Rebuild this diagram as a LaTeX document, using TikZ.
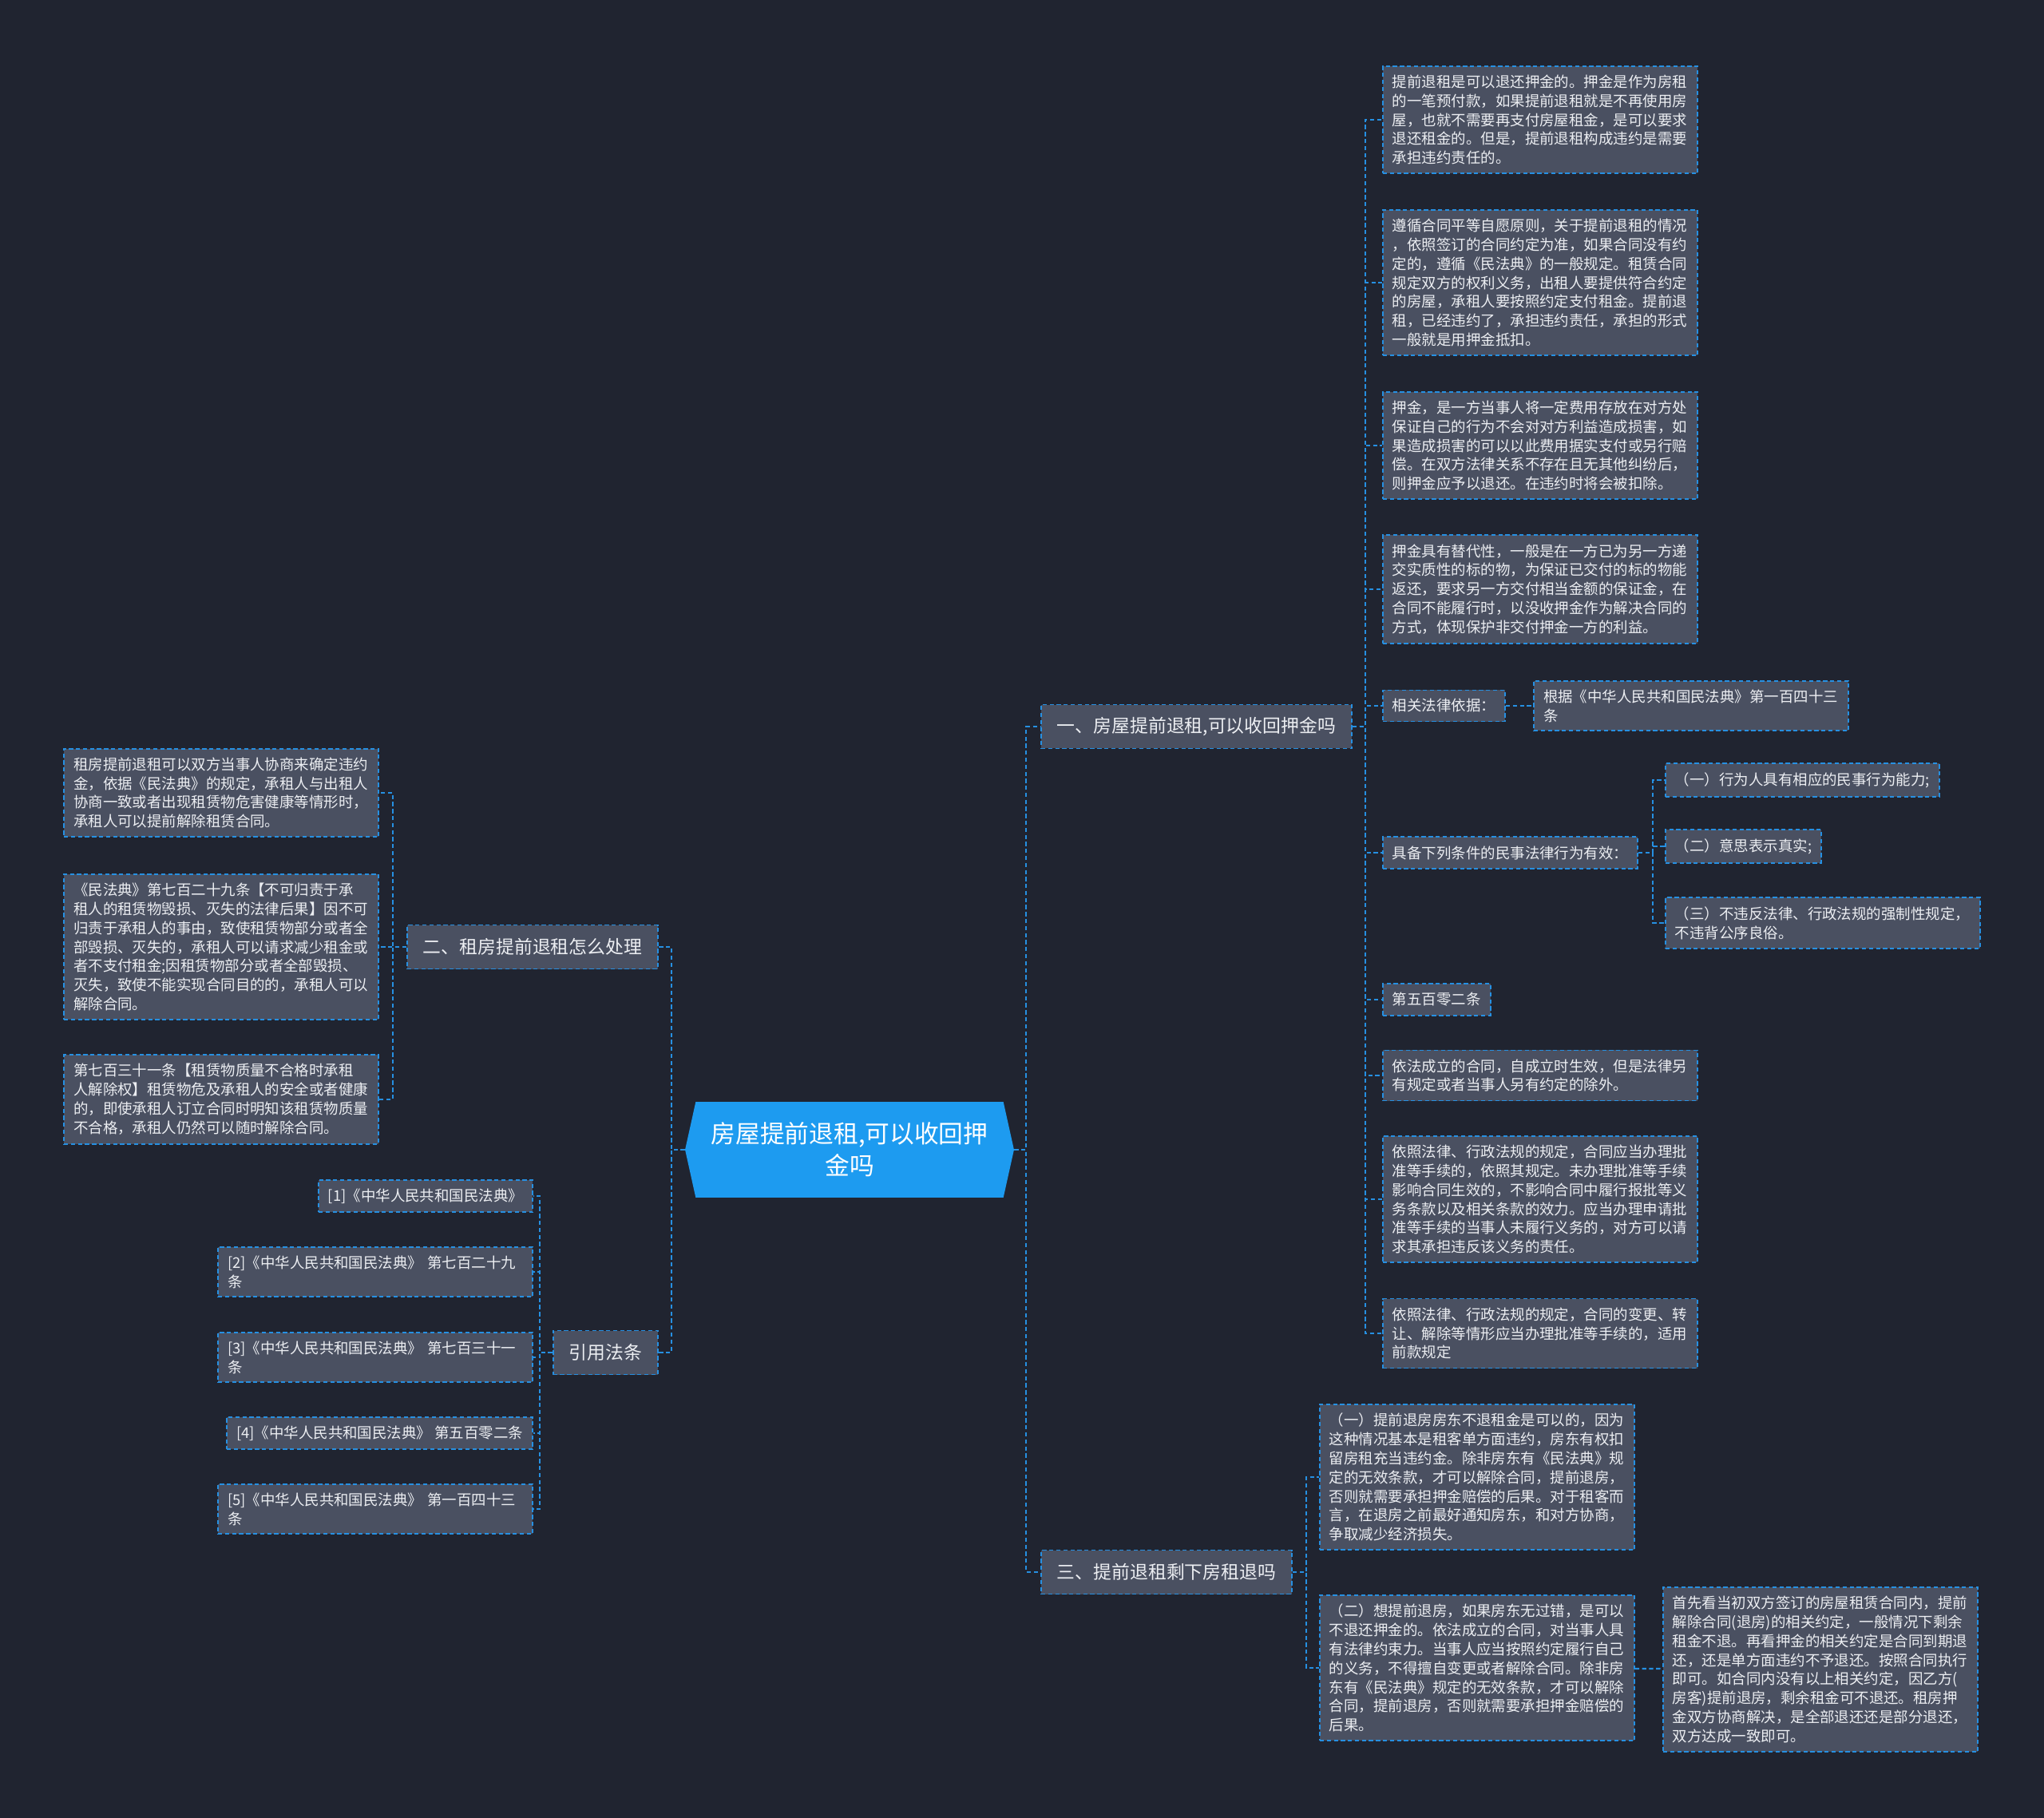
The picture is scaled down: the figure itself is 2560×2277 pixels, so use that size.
\documentclass[tikz,border=0pt]{standalone}
\usepackage{fontspec}
\setmainfont{Noto Sans CJK SC}
\usetikzlibrary{positioning, shapes.symbols}

\definecolor{bgcol}{RGB}{32,36,48}
\definecolor{boxgrey}{RGB}{74,80,97}
\definecolor{lineblue}{RGB}{38,144,226}
\definecolor{rootblue}{RGB}{29,155,240}
\definecolor{textwhite}{RGB}{236,238,242}

\newcommand{\leaffont}{\fontsize{10.5}{13.6}\selectfont}
\newcommand{\branchfont}{\fontsize{13}{17}\selectfont}
\newcommand{\rootfont}{\fontsize{17.5}{22.8}\selectfont}

\begin{document}
\begin{tikzpicture}[
    x=0.02cm, y=-0.02cm,
    rootbox/.style={signal, signal to=west and east, signal pointer angle=155, fill=rootblue, text=white, font=\rootfont, align=center, minimum width=8.24cm, minimum height=2.4cm, inner sep=0pt},
    branchbox/.style={rectangle, draw=lineblue, fill=boxgrey, line width=1.1pt, dash pattern=on 3pt off 2pt, text=textwhite, font=\branchfont, inner xsep=0.4cm, minimum height=1.1cm},
    leafbox/.style={rectangle, draw=lineblue, fill=boxgrey, line width=1.1pt, dash pattern=on 3pt off 2pt, text=textwhite, font=\leaffont, align=left, inner xsep=0.24cm, inner ysep=0.22cm},
    wide/.style={text width=7.4cm},
    conn/.style={draw=lineblue, line width=1.3pt, dash pattern=on 3pt off 2pt}
]
    \fill[bgcol] (0,0) rectangle (2560,2277);
    \useasboundingbox (0,0) rectangle (2560,2277);

    % centre and first level
    \node[rootbox] (root) at (1064,1440) {房屋提前退租,可以收回押\\金吗};
    \node[branchbox, anchor=west] (sec1) at (1303,910) {一、房屋提前退租,可以收回押金吗};
    \node[branchbox, anchor=west] (sec3) at (1303,1969) {三、提前退租剩下房租退吗};
    \node[branchbox, anchor=east] (sec2) at (825,1186) {二、租房提前退租怎么处理};
    \node[branchbox, anchor=east] (cite) at (825,1694) {引用法条};

    % section one
    \node[leafbox, wide, anchor=west] (dep1) at (1731,150) {提前退租是可以退还押金的。押金是作为房租\\的一笔预付款，如果提前退租就是不再使用房\\屋，也就不需要再支付房屋租金，是可以要求\\退还租金的。但是，提前退租构成违约是需要\\承担违约责任的。};
    \node[leafbox, wide, anchor=west] (dep2) at (1731,354) {遵循合同平等自愿原则，关于提前退租的情况\\，依照签订的合同约定为准，如果合同没有约\\定的，遵循《民法典》的一般规定。租赁合同\\规定双方的权利义务，出租人要提供符合约定\\的房屋，承租人要按照约定支付租金。提前退\\租，已经违约了，承担违约责任，承担的形式\\一般就是用押金抵扣。};
    \node[leafbox, wide, anchor=west] (dep3) at (1731,558) {押金，是一方当事人将一定费用存放在对方处\\保证自己的行为不会对对方利益造成损害，如\\果造成损害的可以以此费用据实支付或另行赔\\偿。在双方法律关系不存在且无其他纠纷后，\\则押金应予以退还。在违约时将会被扣除。};
    \node[leafbox, wide, anchor=west] (dep4) at (1731,738) {押金具有替代性，一般是在一方已为另一方递\\交实质性的标的物，为保证已交付的标的物能\\返还，要求另一方交付相当金额的保证金，在\\合同不能履行时，以没收押金作为解决合同的\\方式，体现保护非交付押金一方的利益。};
    \node[leafbox, anchor=west] (basis) at (1731,884) {相关法律依据：};
    \node[leafbox, wide, right=0.68cm of basis] (basisref) {根据《中华人民共和国民法典》第一百四十三\\条};
    \node[leafbox, anchor=west] (valid) at (1731,1068) {具备下列条件的民事法律行为有效：};
    \node[leafbox, anchor=west] (cond1) at (2085,977) {（一）行为人具有相应的民事行为能力;};
    \node[leafbox, anchor=west] (cond2) at (2085,1060) {（二）意思表示真实;};
    \node[leafbox, wide, anchor=west] (cond3) at (2085,1156) {（三）不违反法律、行政法规的强制性规定，\\不违背公序良俗。};
    \node[leafbox, anchor=west] (art502) at (1731,1252) {第五百零二条};
    \node[leafbox, wide, anchor=west] (eff) at (1731,1347) {依法成立的合同，自成立时生效，但是法律另\\有规定或者当事人另有约定的除外。};
    \node[leafbox, wide, anchor=west] (appr) at (1731,1502) {依照法律、行政法规的规定，合同应当办理批\\准等手续的，依照其规定。未办理批准等手续\\影响合同生效的，不影响合同中履行报批等义\\务条款以及相关条款的效力。应当办理申请批\\准等手续的当事人未履行义务的，对方可以请\\求其承担违反该义务的责任。};
    \node[leafbox, wide, anchor=west] (chg) at (1731,1670) {依照法律、行政法规的规定，合同的变更、转\\让、解除等情形应当办理批准等手续的，适用\\前款规定};

    % section three
    \node[leafbox, wide, anchor=west] (ret1) at (1652,1850) {（一）提前退房房东不退租金是可以的，因为\\这种情况基本是租客单方面违约，房东有权扣\\留房租充当违约金。除非房东有《民法典》规\\定的无效条款，才可以解除合同，提前退房，\\否则就需要承担押金赔偿的后果。对于租客而\\言，在退房之前最好通知房东，和对方协商，\\争取减少经济损失。};
    \node[leafbox, wide, anchor=west] (ret2) at (1652,2089) {（二）想提前退房，如果房东无过错，是可以\\不退还押金的。依法成立的合同，对当事人具\\有法律约束力。当事人应当按照约定履行自己\\的义务，不得擅自变更或者解除合同。除非房\\东有《民法典》规定的无效条款，才可以解除\\合同，提前退房，否则就需要承担押金赔偿的\\后果。};
    \node[leafbox, wide, anchor=west] (ret2note) at (2082,2091) {首先看当初双方签订的房屋租赁合同内，提前\\解除合同(退房)的相关约定，一般情况下剩余\\租金不退。再看押金的相关约定是合同到期退\\还，还是单方面违约不予退还。按照合同执行\\即可。如合同内没有以上相关约定，因乙方(\\房客)提前退房，剩余租金可不退还。租房押\\金双方协商解决，是全部退还还是部分退还，\\双方达成一致即可。};

    % section two
    \node[leafbox, wide, anchor=east] (neg) at (475,993) {租房提前退租可以双方当事人协商来确定违约\\金，依据《民法典》的规定，承租人与出租人\\协商一致或者出现租赁物危害健康等情形时，\\承租人可以提前解除租赁合同。};
    \node[leafbox, wide, anchor=east] (art729) at (475,1186) {《民法典》第七百二十九条【不可归责于承\\租人的租赁物毁损、灭失的法律后果】因不可\\归责于承租人的事由，致使租赁物部分或者全\\部毁损、灭失的，承租人可以请求减少租金或\\者不支付租金;因租赁物部分或者全部毁损、\\灭失，致使不能实现合同目的的，承租人可以\\解除合同。};
    \node[leafbox, wide, anchor=east] (art731) at (475,1377) {第七百三十一条【租赁物质量不合格时承租\\人解除权】租赁物危及承租人的安全或者健康\\的，即使承租人订立合同时明知该租赁物质量\\不合格，承租人仍然可以随时解除合同。};

    % cited articles
    \node[leafbox, anchor=east] (ref1) at (668,1498) {[1]《中华人民共和国民法典》};
    \node[leafbox, wide, anchor=east] (ref2) at (668,1593) {[2]《中华人民共和国民法典》 第七百二十九\\条};
    \node[leafbox, wide, anchor=east] (ref3) at (668,1700) {[3]《中华人民共和国民法典》 第七百三十一\\条};
    \node[leafbox, anchor=east] (ref4) at (668,1795) {[4]《中华人民共和国民法典》 第五百零二条};
    \node[leafbox, wide, anchor=east] (ref5) at (668,1890) {[5]《中华人民共和国民法典》 第一百四十三\\条};

    % connectors
    \foreach \n in {sec1,sec3}
        \draw[conn] (root.east) -- ++(15,0) |- (\n.west);
    \foreach \n in {sec2,cite}
        \draw[conn] (root.west) -- ++(-17,0) |- (\n.east);
    \foreach \n in {dep1,dep2,dep3,dep4,basis,valid,art502,eff,appr,chg}
        \draw[conn] (sec1.east) -- ++(16,0) |- (\n.west);
    \draw[conn] (basis) -- (basisref);
    \foreach \n in {cond1,cond2,cond3}
        \draw[conn] (valid.east) -- ++(18,0) |- (\n.west);
    \foreach \n in {ret1,ret2}
        \draw[conn] (sec3.east) -- ++(17,0) |- (\n.west);
    \draw[conn] (ret2) -- (ret2note);
    \foreach \n in {neg,art729,art731}
        \draw[conn] (sec2.west) -- ++(-17,0) |- (\n.east);
    \foreach \n in {ref1,ref2,ref3,ref4,ref5}
        \draw[conn] (cite.west) -- ++(-16,0) |- (\n.east);
\end{tikzpicture}
\end{document}
